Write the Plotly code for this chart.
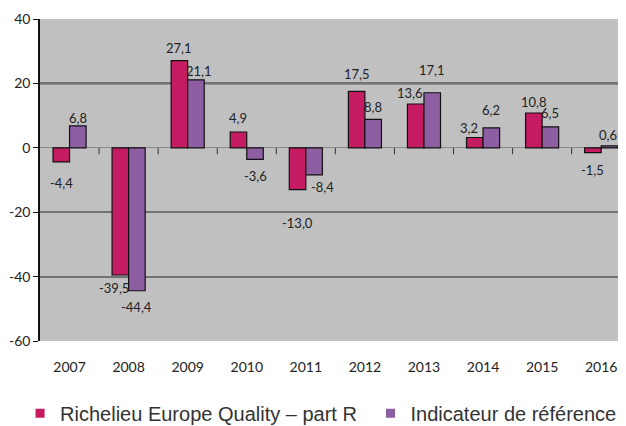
import plotly.graph_objects as go

years = ["2007", "2008", "2009", "2010", "2011", "2012", "2013", "2014", "2015", "2016"]
fund = [-4.4, -39.5, 27.1, 4.9, -13.0, 17.5, 13.6, 3.2, 10.8, -1.5]
bench = [6.8, -44.4, 21.1, -3.6, -8.4, 8.8, 17.1, 6.2, 6.5, 0.6]
fund_name = "Richelieu Europe Quality – part R"
bench_name = "Indicateur de référence"
y_ticks = [-60, -40, -20, 0, 20, 40]
fund_color = "#C51B62"
bench_color = "#8E5EA3"

# extra label distance from bar end (px), style only
fund_lab_extra = [10, 2, 2, 3, 22, 6, 0, -1, 0, 6]
bench_lab_extra = [-3, 5, -2, 6, 1, 1, 12, 7, 3, 0]
fund_lab_dx = [0, -6, 0, 0, 0, 0, -6, -6, 0, 0]
bench_lab_dx = [0, 0, 3, 0, 8, 0, 0, 0, 0, -1]

def fmt(v):
    return f"{v:.1f}".replace(".", ",")

lab_font = "Lato, Liberation Sans Narrow, sans-serif"

W, H = 618, 418          # page body has an 8px margin
ML, MR, MT, MB = 32, 0, 11, 85
X_RANGE = [-0.5, 9.42]
BARGAP = 0.44
px_per_cat = (W - ML - MR) / (X_RANGE[1] - X_RANGE[0])
bar_w = px_per_cat * (1 - BARGAP) / 2

fig = go.Figure()
for vals, name, col in [(fund, fund_name, fund_color), (bench, bench_name, bench_color)]:
    fig.add_trace(go.Bar(x=years, y=vals, name=name, showlegend=False,
                         marker=dict(color=col, line=dict(color="#111", width=1.2))))

# legend entries with small square markers, each in its own legend
fig.add_trace(go.Scatter(x=[years[0]], y=[None], mode="markers", name=fund_name, legend="legend",
                         marker=dict(symbol="square", size=9, color=fund_color)))
fig.add_trace(go.Scatter(x=[years[0]], y=[None], mode="markers", name=bench_name, legend="legend2",
                         marker=dict(symbol="square", size=9, color=bench_color)))

# value labels
annotations = []
for vals, extra, dxs, side in [(fund, fund_lab_extra, fund_lab_dx, -1), (bench, bench_lab_extra, bench_lab_dx, 1)]:
    for i, (v, e, dx) in enumerate(zip(vals, extra, dxs)):
        sgn = 1 if v >= 0 else -1
        annotations.append(dict(xref="x", yref="y", x=i, y=v, text=fmt(v), showarrow=False,
                                xshift=round(side * bar_w / 2 + dx, 1), yshift=sgn * (11 + e),
                                font=dict(family=lab_font, size=13, color="#222")))

shapes = []
# small category separator ticks on the zero line
for i in range(len(years) - 1):
    shapes.append(dict(type="line", xref="x", yref="y", x0=i + 0.5, x1=i + 0.5, y0=0, y1=-2,
                       line=dict(color="#333", width=1)))
# darker reference line at 20
shapes.append(dict(type="line", xref="paper", yref="y", x0=0, x1=1, y0=y_ticks[4], y1=y_ticks[4],
                   line=dict(color="#000", width=1.6), layer="below"))

leg_font = dict(family="Liberation Sans, Arial, sans-serif", size=20, color="#333")
fig.update_layout(
    width=W, height=H,
    margin=dict(l=ML, r=MR, t=MT, b=MB, autoexpand=False),
    paper_bgcolor="white", plot_bgcolor="#C0C0C0",
    barmode="group", bargap=BARGAP, bargroupgap=0,
    showlegend=True,
    annotations=annotations,
    shapes=shapes,
    legend=dict(orientation="h", x=-0.034, xanchor="left", y=-0.224, yanchor="middle",
                font=leg_font, bgcolor="rgba(0,0,0,0)"),
    legend2=dict(orientation="h", x=0.564, xanchor="left", y=-0.224, yanchor="middle",
                 font=leg_font, bgcolor="rgba(0,0,0,0)"),
    font=dict(family=lab_font, size=13, color="#222"),
)
fig.update_yaxes(range=[-60, 40], tickvals=y_ticks, ticktext=[str(v) for v in y_ticks],
                 showgrid=True, gridcolor="#727272", gridwidth=1.5,
                 zeroline=True, zerolinecolor="#8a8a8a", zerolinewidth=1.2,
                 showline=True, linecolor="#111", linewidth=1.5, ticks="outside", ticklen=5, tickcolor="#111",
                 tickfont=dict(family=lab_font, size=14, color="#222"))
fig.update_xaxes(type="category", range=X_RANGE, showgrid=False, showline=False, ticks="",
                 tickfont=dict(family=lab_font, size=14, color="#222"), ticklabelstandoff=16)

fig.write_html("out.html")
